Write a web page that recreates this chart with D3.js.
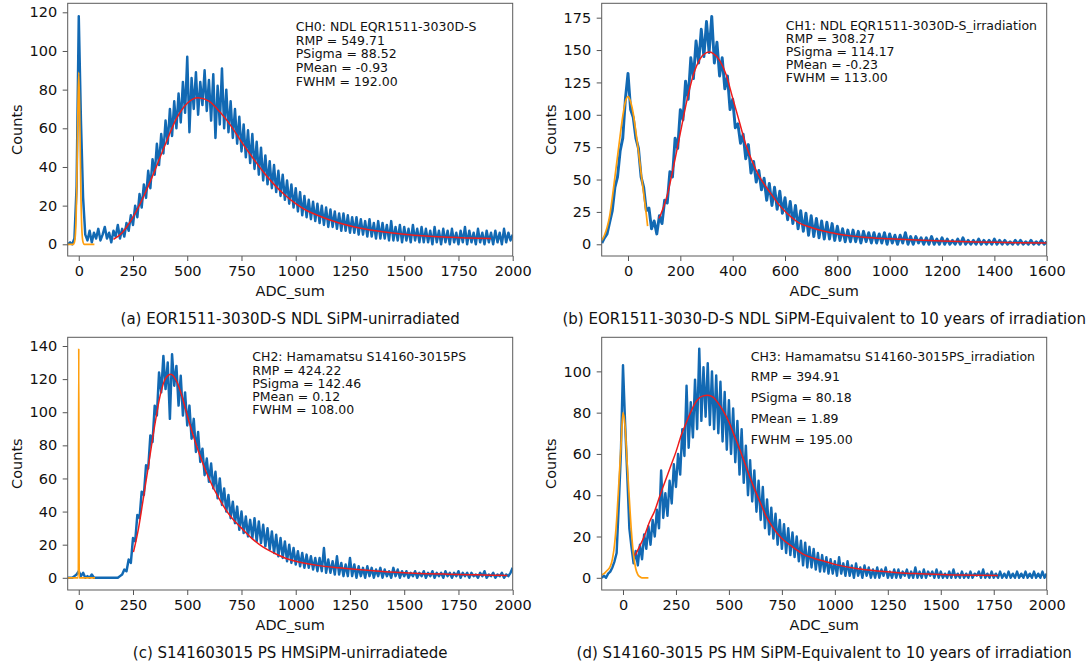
<!DOCTYPE html>
<html>
<head>
<meta charset="utf-8">
<script src="https://cdn.jsdelivr.net/npm/d3@7"></script>
<style>
  body { margin: 0; background: #fff; }
  svg { font-family: "DejaVu Sans", Verdana, sans-serif; }
</style>
</head>
<body>
<div class="graphContainer"></div>
<script>
// histogram bins are 10 ADC wide, first bin given per panel
var binStep = 10;

// (a) CH0 NDL, unirradiated -- counts from ADC -50
var countsA = [
  0, 1, 0, 3, 30,
  118, 64, 24, 5, 2, 7, 1, 6, 3, 8,
  2, 5, 9, 3, 6, 1, 7, 4, 10, 3,
  8, 4, 11, 7, 15, 10, 20, 14, 26, 19,
  31, 24, 38, 29, 44, 36, 52, 41, 57, 47,
  64, 52, 70, 56, 74, 60, 78, 63, 84, 68,
  97, 58, 86, 70, 89, 67, 84, 72, 90, 69,
  85, 64, 88, 55, 82, 62, 91, 60, 80, 58,
  74, 55, 70, 52, 66, 48, 62, 45, 59, 42,
  57, 39, 53, 36, 50, 33, 46, 31, 43, 29,
  41, 27, 38, 25, 36, 23, 33, 21, 31, 19,
  29, 17, 27, 15, 25, 14, 23, 13, 22, 12,
  21, 11, 20, 10, 19, 9, 18, 9, 17, 8,
  16, 7, 16, 7, 15, 6, 14, 6, 14, 5,
  13, 5, 12, 4, 13, 4, 11, 3, 12, 3,
  11, 3, 10, 2, 12, 2, 9, 2, 10, 1,
  9, 2, 8, 1, 10, 2, 8, 1, 9, 1,
  8, 1, 7, 0, 9, 1, 7, 0, 8, 1,
  7, 0, 8, 1, 6, 0, 7, 1, 9, 0,
  7, 1, 6, 0, 8, 1, 6, 0, 7, 1,
  6, 0, 7, 1, 6, 0, 8, 1, 6, 2, 5
];
var pedXA = [-50, -25, -20, -15, -10, -5, 0, 5, 10, 15, 20, 25, 72];
var pedYA = [0, 0, 1, 6, 25, 62, 89, 62, 25, 6, 1, 0, 0];
var fitXA = [160, 200, 250, 300, 350, 400, 450, 500, 550, 600, 650, 700, 750, 800, 850, 900, 950, 1000, 1050, 1100, 1200, 1300, 1400, 1500, 1600, 1700, 1800, 1900];
var fitYA = [2.5, 6, 14, 25, 38, 52, 65, 73, 75.8, 74, 68.5, 61.5, 53, 45, 37.5, 31, 25.5, 21, 17.5, 15, 11, 8.3, 6.5, 5.2, 4.3, 3.7, 3.2, 3];

// (b) CH1 NDL, irradiated -- counts from ADC -100
var countsB = [
  1, 5, 8, 17, 26, 44, 52, 72, 82, 112,
  132, 104, 98, 82, 74, 52, 44, 26, 28, 12,
  18, 8, 22, 16, 34, 32, 56, 52, 82, 74,
  104, 96, 126, 112, 144, 128, 157, 140, 166, 145,
  172, 148, 176, 140, 156, 130, 144, 120, 130, 104,
  112, 90, 93, 78, 85, 66, 77, 55, 64, 48,
  57, 42, 51, 34, 47, 30, 44, 27, 41, 24,
  36, 19, 33, 16, 30, 12, 26, 10, 24, 7,
  22, 6, 20, 5, 18, 4, 17, 4, 16, 3,
  14, 3, 12, 2, 11, 2, 11, 2, 10, 1,
  10, 2, 9, 1, 9, 1, 8, 1, 9, 0,
  8, 1, 7, 0, 7, 1, 9, 0, 6, 0,
  6, 1, 5, 0, 5, 0, 6, 0, 4, 0,
  5, 0, 4, 0, 3, 0, 4, 0, 5, 0,
  3, 0, 3, 0, 4, 0, 3, 0, 3, 0,
  4, 0, 3, 0, 3, 0, 2, 0, 3, 0,
  3, 0, 2, 0, 3, 0, 2, 0, 3, 0, 2
];
var pedXB = [-100, -90, -80, -70, -60, -50, -40, -30, -20, -10, 0, 10, 20, 30, 40, 50, 60, 70, 75];
var pedYB = [3, 7, 13, 22, 36, 52, 68, 84, 99, 110, 114, 110, 101, 87, 72, 55, 39, 23, 14];
var fitXB = [118, 125, 150, 175, 200, 225, 250, 275, 300, 310, 325, 350, 375, 400, 425, 450, 475, 500, 525, 550, 575, 600, 650, 700, 750, 800, 850, 900, 1000, 1100, 1200, 1300, 1400, 1500, 1600];
var fitYB = [20, 23, 38, 61, 86, 111, 131, 143, 148, 148.5, 147.5, 142, 131, 113, 95, 77, 64, 53, 45, 38, 31, 25.5, 17, 13, 10, 8, 6.5, 5.5, 4.3, 3.3, 2.5, 2, 1.5, 1.2, 1];

// (c) CH2 Hamamatsu, unirradiated -- counts from ADC -50
var countsC = [
  0, 0, 0, 1, 2,
  4, 1, 3, 0, 1, 0, 2, 0, 0, 0,
  0, 0, 0, 0, 0, 0, 0, 0, 0, 1,
  2, 5, 4, 11, 9, 24, 22, 38, 36, 52,
  50, 68, 66, 86, 82, 104, 98, 124, 112, 134,
  114, 130, 96, 135, 116, 128, 104, 122, 98, 112,
  92, 104, 84, 96, 76, 88, 70, 78, 62, 72,
  58, 69, 54, 64, 48, 60, 44, 54, 40, 50,
  36, 46, 33, 43, 29, 40, 27, 37, 25, 35,
  24, 36, 22, 34, 21, 32, 19, 30, 17, 28,
  15, 26, 13, 24, 12, 22, 10, 20, 9, 18,
  8, 16, 7, 15, 6, 14, 6, 13, 5, 12,
  4, 12, 4, 18, 3, 11, 3, 10, 2, 13,
  2, 9, 1, 8, 1, 12, 1, 8, 0, 7,
  1, 6, 0, 7, 1, 6, 0, 5, 1, 6,
  0, 5, 1, 4, 0, 6, 1, 5, 0, 4,
  1, 4, 0, 3, 1, 4, 0, 3, 1, 4,
  0, 3, 1, 4, 0, 3, 1, 3, 0, 4,
  1, 3, 0, 3, 1, 4, 0, 3, 1, 3,
  0, 3, 1, 2, 0, 3, 1, 4, 0, 2,
  1, 3, 0, 2, 1, 3, 0, 2, 1, 3, 6
];
var pedXC = [-50, -2, 0, 2, 75];
var pedYC = [0, 0, 138.5, 0, 0];
var fitXC = [252, 275, 300, 325, 350, 375, 400, 425, 450, 475, 500, 525, 550, 575, 600, 650, 700, 750, 800, 850, 900, 950, 1000, 1100, 1200, 1300, 1400, 1500, 1600, 1700, 1800, 1900, 1975];
var fitYC = [15.5, 29.6, 50, 71, 92, 110, 120.5, 123, 119, 110, 98, 87, 77, 68, 60, 47, 37, 30, 23.5, 18.5, 15, 12, 10, 7.5, 6, 4.8, 3.8, 3, 2.5, 2.2, 1.9, 1.6, 1.4];

// (d) CH3 Hamamatsu, irradiated -- counts from ADC -100
var countsD = [
  0, 1, 0, 2, 3, 5, 8, 12, 35, 60,
  103, 75, 50, 24, 15, 7, 13, 6, 16, 9,
  21, 14, 25, 16, 28, 20, 33, 24, 52, 29,
  41, 30, 47, 36, 55, 44, 60, 50, 72, 59,
  93, 63, 85, 68, 96, 72, 111, 76, 102, 78,
  104, 74, 100, 72, 98, 70, 95, 66, 90, 62,
  86, 60, 82, 56, 76, 50, 72, 46, 64, 40,
  57, 37, 52, 32, 47, 28, 44, 24, 38, 21,
  34, 19, 31, 16, 28, 14, 26, 12, 24, 11,
  22, 10, 20, 8, 18, 6, 17, 5, 15, 5,
  14, 4, 12, 3, 11, 3, 10, 2, 9, 2,
  8, 1, 10, 2, 7, 1, 8, 1, 6, 0,
  7, 1, 5, 0, 6, 1, 5, 0, 4, 0,
  5, 0, 4, 1, 5, 0, 3, 0, 4, 0,
  4, 0, 3, 1, 4, 0, 3, 0, 5, 0,
  3, 0, 4, 0, 3, 1, 3, 0, 4, 0,
  3, 0, 2, 0, 3, 0, 4, 0, 2, 0,
  3, 0, 2, 0, 3, 0, 2, 1, 3, 0,
  4, 0, 2, 0, 3, 0, 2, 0, 3, 0,
  2, 0, 3, 0, 2, 0, 3, 0, 2, 0,
  3, 0, 2, 0, 3, 0, 2, 0, 3, 0, 2
];
var pedXD = [-100, -90, -80, -70, -60, -50, -40, -30, -20, -10, 0, 10, 20, 30, 40, 50, 60, 70, 80, 90, 100, 110, 120];
var pedYD = [1.5, 2, 3, 4, 5.5, 9, 16, 28, 45, 63, 80, 73, 55, 38, 22, 11, 4.5, 1.5, 0.5, 0, 0, 0, 0];
var fitXD = [57, 75, 100, 125, 150, 175, 200, 225, 250, 275, 300, 325, 350, 375, 400, 425, 450, 475, 500, 525, 550, 575, 600, 625, 650, 675, 700, 750, 800, 850, 900, 950, 1000, 1100, 1200, 1300, 1400, 1500, 1600, 1700, 1770];
var fitYD = [10.8, 14.5, 20, 27, 32.5, 40, 47, 54, 61, 69, 75.5, 81.5, 86, 88, 88.4, 87.5, 84.5, 80.5, 75.5, 69, 62.5, 55.5, 48.5, 42, 36, 30, 25.5, 19, 15, 11.5, 9.5, 8, 6.5, 4.5, 3.3, 2.5, 2, 1.6, 1.3, 1.2, 1.1];

// fit results printed on each panel
var infoA = ["CH0: NDL EQR1511-3030D-S", "RMP = 549.71", "PSigma = 88.52", "PMean = -0.93", "FWHM = 192.00"];
var infoB = ["CH1: NDL EQR1511-3030D-S_irradiation", "RMP = 308.27", "PSigma = 114.17", "PMean = -0.23", "FWHM = 113.00"];
var infoC = ["CH2: Hamamatsu S14160-3015PS", "RMP = 424.22", "PSigma = 142.46", "PMean = 0.12", "FWHM = 108.00"];
var infoD = ["CH3: Hamamatsu S14160-3015PS_irradiation", "RMP = 394.91", "PSigma = 80.18", "PMean = 1.89", "FWHM = 195.00"];

var captions = [
  "(a) EOR1511-3030D-S NDL SiPM-unirradiated",
  "(b) EOR1511-3030-D-S NDL SiPM-Equivalent to 10 years of irradiation",
  "(c) S141603015 PS HMSiPM-unirradiatede",
  "(d) S14160-3015 PS HM SiPM-Equivalent to 10 years of irradiation"
];

var panels = [
  { left: 67.7, top: 3.3, xDom: [-51, 2000], yDom: [-6.05, 124.66], xTicks: d3.range(0, 2001, 250), yTicks: d3.range(0, 121, 20),
    start: -50, counts: countsA, pedX: pedXA, pedY: pedYA, fitX: fitXA, fitY: fitYA, info: infoA, infoX: 228, infoY: 28, infoGap: 13.6 },
  { left: 601.7, top: 3.3, xDom: [-100.5, 1600], yDom: [-9.04, 186.1], xTicks: d3.range(0, 1601, 200), yTicks: d3.range(0, 176, 25),
    start: -100, counts: countsB, pedX: pedXB, pedY: pedYB, fitX: fitXB, fitY: fitYB, info: infoB, infoX: 184, infoY: 27, infoGap: 13 },
  { left: 67.7, top: 337.3, xDom: [-51, 2000], yDom: [-7.37, 145.26], xTicks: d3.range(0, 2001, 250), yTicks: d3.range(0, 141, 20),
    start: -50, counts: countsC, pedX: pedXC, pedY: pedYC, fitX: fitXC, fitY: fitYC, info: infoC, infoX: 184.6, infoY: 24, infoGap: 13.3 },
  { left: 601.7, top: 337.3, xDom: [-100.5, 2000], yDom: [-5.91, 116.5], xTicks: d3.range(0, 2001, 250), yTicks: d3.range(0, 101, 20),
    start: -100, counts: countsD, pedX: pedXD, pedY: pedYD, fitX: fitXD, fitY: fitYD, info: infoD, infoX: 149, infoY: 23.3, infoGap: 20.75 }
];

var W = 1091, H = 668, pw = 445, ph = 252.7;

var svg = d3.select(".graphContainer")
  .append("svg")
  .attr("width", W)
  .attr("height", H);

panels.forEach(function (p, i) {
  var x = d3.scaleLinear().domain(p.xDom).range([0, pw]);
  var y = d3.scaleLinear().domain(p.yDom).range([ph, 0]);

  var g = svg.append("g")
    .attr("transform", "translate(" + p.left + "," + p.top + ")");

  g.append("clipPath")
    .attr("id", "clip" + i)
    .append("rect")
    .attr("width", pw)
    .attr("height", ph);

  var plot = g.append("g").attr("clip-path", "url(#clip" + i + ")");

  // measured histogram: plain line, stroke about one bin wide so the
  // bin-to-bin scatter closes into a band with spiky edges
  var binPx = x(binStep) - x(0);
  var bins = p.counts.map(function (c, k) { return { adc: p.start + k * binStep, n: c }; });
  var histLine = d3.line()
    .x(function (d) { return x(d.adc); })
    .y(function (d) { return y(d.n); });
  plot.append("path")
    .datum(bins)
    .attr("d", histLine)
    .attr("fill", "none")
    .attr("stroke", "#1269b3")
    .attr("stroke-width", binPx + 0.3)
    .attr("stroke-linejoin", "round");

  // pedestal gaussian fit (orange), signal fit (red)
  var fitLine = d3.line()
    .x(function (d) { return x(d[0]); })
    .y(function (d) { return y(d[1]); })
    .curve(d3.curveMonotoneX);

  plot.append("path")
    .datum(d3.zip(p.pedX, p.pedY))
    .attr("d", fitLine)
    .attr("fill", "none")
    .attr("stroke", "#ff9f0e")
    .attr("stroke-width", 1.7);

  plot.append("path")
    .datum(d3.zip(p.fitX, p.fitY))
    .attr("d", fitLine)
    .attr("fill", "none")
    .attr("stroke", "#ee1c1c")
    .attr("stroke-width", 1.5);

  // axes
  var fmt = d3.format("d");
  var ax = g.append("g")
    .attr("transform", "translate(0," + ph + ")")
    .call(d3.axisBottom(x).tickValues(p.xTicks).tickFormat(fmt).tickSize(5).tickPadding(5).tickSizeOuter(0));
  var ay = g.append("g")
    .call(d3.axisLeft(y).tickValues(p.yTicks).tickFormat(fmt).tickSize(5).tickPadding(5.4).tickSizeOuter(0));

  [ax, ay].forEach(function (a) {
    a.select(".domain").remove();
    a.selectAll("line").attr("stroke", "#555");
    a.selectAll("text")
      .attr("font-family", "DejaVu Sans")
      .attr("font-size", "14.5px")
      .attr("fill", "#111");
  });

  // frame
  g.append("rect")
    .attr("width", pw)
    .attr("height", ph)
    .attr("fill", "none")
    .attr("stroke", "#5a5a5a")
    .attr("stroke-width", 1);

  g.append("text")
    .attr("transform", "translate(-51," + (ph / 2) + ") rotate(-90)")
    .attr("text-anchor", "middle")
    .attr("dominant-baseline", "central")
    .attr("font-size", "14.5px")
    .attr("fill", "#111")
    .text("Counts");

  g.append("text")
    .attr("x", pw / 2)
    .attr("y", ph + 40)
    .attr("text-anchor", "middle")
    .attr("font-size", "14.5px")
    .attr("fill", "#111")
    .text("ADC_sum");

  g.append("text")
    .attr("x", pw / 2)
    .attr("y", ph + 68)
    .attr("text-anchor", "middle")
    .attr("font-size", "15px")
    .attr("fill", "#111")
    .text(captions[i]);

  g.append("g")
    .selectAll("text")
    .data(p.info)
    .enter()
    .append("text")
    .attr("x", p.infoX)
    .attr("y", function (d, k) { return p.infoY + k * p.infoGap; })
    .attr("font-size", "12.5px")
    .attr("fill", "#111")
    .text(function (d) { return d; });
});
</script>
</body>
</html>
